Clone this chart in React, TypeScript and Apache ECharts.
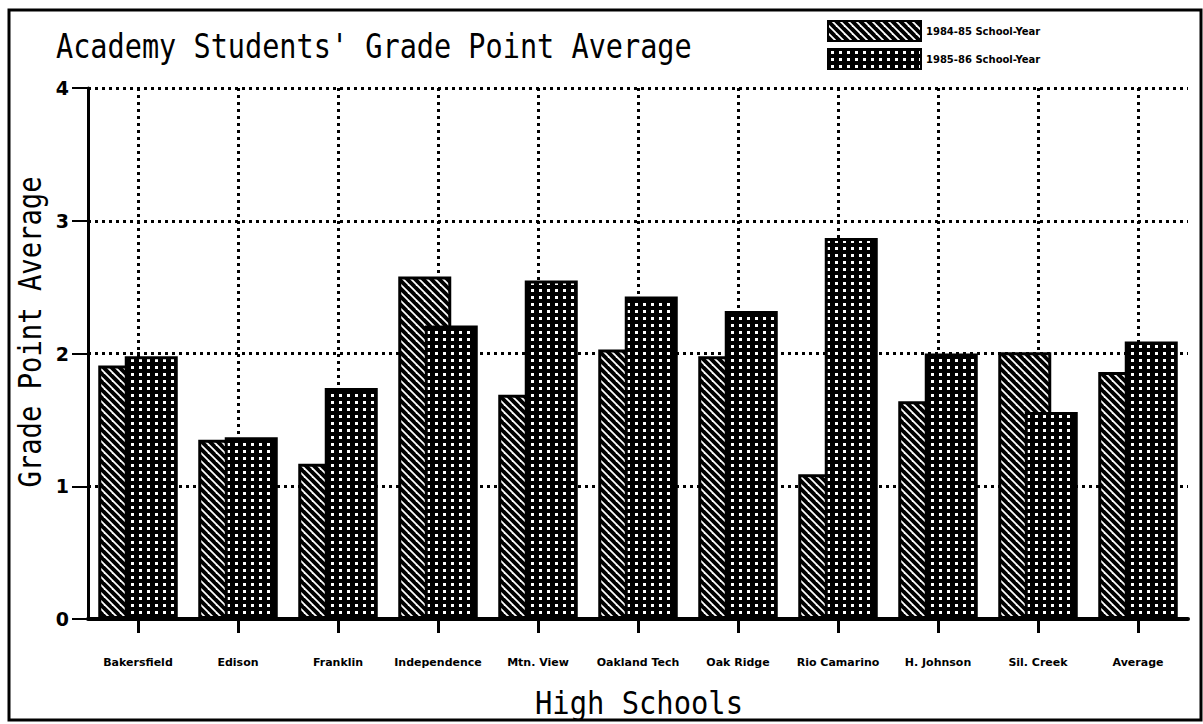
import React, { useEffect, useRef } from 'react';
import * as echarts from 'echarts';

const schools = ['Bakersfield', 'Edison', 'Franklin', 'Independence', 'Mtn. View', 'Oakland Tech', 'Oak Ridge', 'Rio Camarino', 'H. Johnson', 'Sil. Creek', 'Average'];
const gpa1984 = [1.91, 1.35, 1.17, 2.58, 1.69, 2.03, 1.98, 1.09, 1.64, 2.01, 1.86];
const gpa1985 = [1.98, 1.37, 1.74, 2.21, 2.55, 2.43, 2.32, 2.87, 2.0, 1.56, 2.09];
const seriesNames = ['1984-85 School-Year', '1985-86 School-Year'];
const titleText = "Academy Students' Grade Point Average";
const yName = 'Grade Point Average';
const xName = 'High Schools';
// helper positions for the dotted vertical grid (odd indices = category centres)
const gridHelper = ['a0','a1','a2','a3','a4','a5','a6','a7','a8','a9','a10','a11','a12','a13','a14','a15','a16','a17','a18','a19','a20','a21','a22'];

function makeHatch(): HTMLCanvasElement {
  const s = 8;
  const c = document.createElement('canvas');
  c.width = s; c.height = s;
  const g = c.getContext('2d')!;
  g.fillStyle = '#fff';
  g.fillRect(0, 0, s, s);
  g.strokeStyle = '#000';
  g.lineWidth = 3.9;
  for (let k = -1; k <= 1; k++) {
    g.beginPath();
    g.moveTo(k * s - s, -s);
    g.lineTo(k * s + 2 * s, 2 * s);
    g.stroke();
  }
  return c;
}

function makeDots(): HTMLCanvasElement {
  const c = document.createElement('canvas');
  c.width = 8; c.height = 7;
  const g = c.getContext('2d')!;
  g.fillStyle = '#000';
  g.fillRect(0, 0, 8, 7);
  g.fillStyle = '#fff';
  g.fillRect(3, 2, 3, 3);
  return c;
}

const MONO = 'DejaVu Sans Mono';
const SANS = 'DejaVu Sans';

export default function App() {
  const ref = useRef<HTMLDivElement>(null);
  useEffect(() => {
    const chart = echarts.init(ref.current!, null, { renderer: 'svg' });
    const hatch = makeHatch();
    const dots = makeDots();
    const dottedLine = { color: '#000', width: 3, type: [3, 4] as any };
    const option: any = {
      animation: false,
      backgroundColor: '#fff',
      legend: {
        orient: 'vertical',
        left: 822,
        top: 15,
        itemWidth: 93,
        itemHeight: 20,
        itemGap: 6,
        icon: 'rect',
        selectedMode: false,
        data: seriesNames,
        textStyle: { fontFamily: SANS, fontWeight: 'bold', fontSize: 10, color: '#000' },
      },
      grid: { left: 88, right: 15, top: 88, bottom: 105, containLabel: false },
      xAxis: [
        {
          type: 'category',
          data: schools,
          boundaryGap: true,
          axisLine: { show: true, lineStyle: { color: '#000', width: 4 } },
          axisTick: { show: true, alignWithLabel: true, length: 14, lineStyle: { color: '#000', width: 3 } },
          axisLabel: { interval: 0, margin: 38, fontFamily: SANS, fontWeight: 'bold', fontSize: 11, color: '#000' },
          splitLine: { show: false },
        },
        {
          type: 'category',
          data: gridHelper,
          boundaryGap: false,
          position: 'bottom',
          axisLine: { show: false },
          axisTick: { show: false },
          axisLabel: { show: false },
          splitLine: { show: true, interval: (i: number) => i % 2 === 1, lineStyle: dottedLine },
        },
      ],
      yAxis: {
        type: 'value',
        min: 0,
        max: 4,
        interval: 1,
        axisLine: { show: true, lineStyle: { color: '#000', width: 3 } },
        axisTick: { show: true, length: 16, lineStyle: { color: '#000', width: 2 } },
        axisLabel: { margin: 19, fontFamily: SANS, fontWeight: 'bold', fontSize: 19, color: '#000' },
        splitLine: { show: true, lineStyle: dottedLine },
      },
      series: [
        {
          name: seriesNames[0],
          type: 'bar',
          xAxisIndex: 0,
          data: gpa1984,
          barWidth: 53,
          barGap: '-50%',
          itemStyle: { color: { image: hatch, repeat: 'repeat' }, borderColor: '#000', borderWidth: 3 },
        },
        {
          name: seriesNames[1],
          type: 'bar',
          xAxisIndex: 0,
          data: gpa1985,
          barWidth: 53,
          barGap: '-50%',
          itemStyle: { color: { image: dots, repeat: 'repeat' }, borderColor: '#000', borderWidth: 3 },
        },
      ],
      graphic: [
        {
          type: 'rect',
          silent: true,
          shape: { x: 9, y: 10, width: 1192, height: 710 },
          style: { fill: 'none', stroke: '#000', lineWidth: 3 },
        },
        {
          type: 'text',
          x: 56,
          y: 46,
          scaleX: 0.84,
          style: { text: titleText, fontFamily: MONO, fontSize: 34, fill: '#000', align: 'left', verticalAlign: 'middle' },
        },
        {
          type: 'text',
          x: 30,
          y: 332,
          rotation: Math.PI / 2,
          scaleX: 0.85,
          style: { text: yName, fontFamily: MONO, fontSize: 32, fill: '#000', align: 'center', verticalAlign: 'middle' },
        },
        {
          type: 'text',
          x: 639,
          y: 703,
          scaleX: 0.9,
          style: { text: xName, fontFamily: MONO, fontSize: 32, fill: '#000', align: 'center', verticalAlign: 'middle' },
        },
      ],
    };
    chart.setOption(option);
    return () => chart.dispose();
  }, []);
  return <div ref={ref} style={{ position: 'fixed', left: 0, top: 0, width: 1203, height: 724, background: '#fff' }} />;
}
